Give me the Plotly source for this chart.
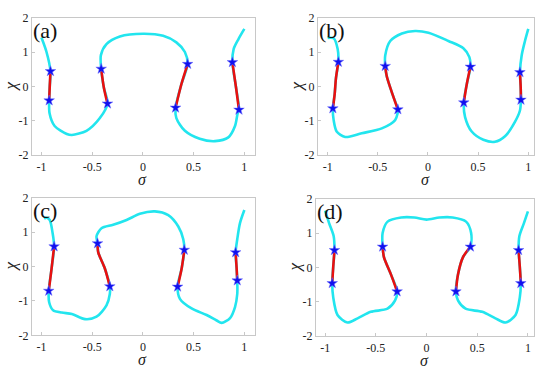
import plotly.graph_objects as go

# ---- data: path points (sigma, chi) for each panel, and indices of the star points
sigma_a = [-1.0, -0.95, -0.911, -0.918, -0.924, -0.92, -0.87, -0.75, -0.70, -0.556, -0.424, -0.349,
           -0.385, -0.411, -0.414, -0.359, -0.227, 0.003, 0.20, 0.33, 0.414, 0.441,
           0.38, 0.322, 0.33, 0.414, 0.56, 0.71, 0.842, 0.908, 0.934, 0.947,
           0.918, 0.882, 0.895, 0.941, 1.0]
chi_a = [1.42, 1.0, 0.44, 0.0, -0.41, -0.78, -1.15, -1.38, -1.41, -1.29, -0.92, -0.50,
         -0.03, 0.51, 0.91, 1.23, 1.45, 1.53, 1.47, 1.28, 1.0, 0.65,
         0.07, -0.62, -0.92, -1.29, -1.52, -1.59, -1.48, -1.15, -0.78, -0.68,
         -0.03, 0.70, 1.09, 1.37, 1.67]
stars_a = [2, 4, 11, 13, 21, 23, 31, 33]

sigma_b = [-1.0, -0.94, -0.90, -0.893, -0.917, -0.93, -0.948, -0.94, -0.91, -0.825, -0.66, -0.46,
           -0.327, -0.304, -0.30, -0.353, -0.41, -0.426, -0.426, -0.376, -0.26, -0.128, 0.005,
           0.204, 0.353, 0.413, 0.423, 0.386, 0.357, 0.37, 0.436, 0.552, 0.668, 0.768, 0.867,
           0.917, 0.927, 0.924, 0.917, 0.934, 0.967, 1.0]
chi_b = [1.41, 1.40, 1.09, 0.71, 0.24, -0.23, -0.64, -0.98, -1.31, -1.47, -1.36, -1.22,
         -0.98, -0.80, -0.67, -0.23, 0.29, 0.59, 0.90, 1.32, 1.54, 1.61, 1.56,
         1.32, 1.11, 0.85, 0.57, 0.05, -0.47, -0.89, -1.31, -1.55, -1.61, -1.45, -1.03,
         -0.70, -0.39, 0.0, 0.41, 0.90, 1.32, 1.67]
stars_b = [3, 6, 14, 17, 26, 28, 36, 38]

sigma_c = [-0.974, -0.95, -0.918, -0.89, -0.875, -0.90, -0.928, -0.924, -0.885, -0.80, -0.70,
           -0.57, -0.457, -0.359, -0.326, -0.326, -0.375, -0.44, -0.447, -0.457, -0.408,
           -0.293, -0.161, -0.03, 0.118, 0.25, 0.349, 0.398, 0.408, 0.382, 0.342, 0.365,
           0.48, 0.628, 0.727, 0.776, 0.859, 0.908, 0.93, 0.93, 0.924, 0.914, 0.93, 0.957, 1.0]
chi_c = [1.39, 1.42, 1.35, 0.97, 0.58, -0.06, -0.71, -1.04, -1.27, -1.34, -1.38,
         -1.53, -1.46, -1.13, -0.80, -0.58, -0.06, 0.41, 0.67, 0.88, 1.11,
         1.21, 1.35, 1.53, 1.60, 1.49, 1.16, 0.79, 0.48, -0.06, -0.59, -0.94,
         -1.22, -1.41, -1.57, -1.64, -1.50, -1.18, -0.80, -0.41, -0.06, 0.41, 0.79, 1.26, 1.64]
stars_c = [4, 6, 15, 18, 28, 30, 39, 41]

sigma_d = [-1.0, -0.96, -0.916, -0.908, -0.92, -0.93, -0.92, -0.878, -0.78, -0.68, -0.55,
           -0.385, -0.31, -0.29, -0.35, -0.42, -0.433, -0.433, -0.384, -0.25, -0.12, 0.0,
           0.127, 0.258, 0.39, 0.44, 0.433, 0.36, 0.31, 0.29, 0.31, 0.385, 0.55, 0.68,
           0.78, 0.878, 0.92, 0.93, 0.92, 0.908, 0.916, 0.96, 1.0]
chi_d = [1.65, 1.28, 0.91, 0.50, 0.02, -0.46, -0.87, -1.38, -1.60, -1.48, -1.29,
         -1.20, -0.96, -0.70, -0.21, 0.30, 0.60, 1.0, 1.33, 1.45, 1.45, 1.39,
         1.45, 1.45, 1.33, 1.0, 0.60, 0.30, -0.21, -0.70, -0.96, -1.20, -1.29, -1.48,
         -1.60, -1.38, -0.87, -0.46, 0.02, 0.50, 0.91, 1.28, 1.63]
stars_d = [3, 5, 13, 16, 26, 29, 37, 39]

panel_labels = ["(a)", "(b)", "(c)", "(d)"]
x_title = "σ"
y_title = "χ"
x_tickvals = [-1, -0.5, 0, 0.5, 1]
x_ticktext = ["-1", "-0.5", "0", "0.5", "1"]
y_tickvals = [-2, -1, 0, 1, 2]
y_ticktext = ["-2", "-1", "0", "1", "2"]

panels = [(sigma_a, chi_a, stars_a), (sigma_b, chi_b, stars_b),
          (sigma_c, chi_c, stars_c), (sigma_d, chi_d, stars_d)]

W, H = 550, 376
# pixel boxes: (left, right, top, bottom), x ranges
boxes = [(32, 255, 11, 154), (318, 534, 11, 154), (32, 255, 198, 341), (316, 534, 199, 342)]
xranges = [(-1.093, 1.105), (-1.096, 1.057), (-1.093, 1.105), (-1.09, 1.06)]

fig = go.Figure()
font_fam = "Liberation Serif"
grey = "#c8c8c8"
txt = "#222222"

for i, ((sx, cy, st), (l, r, t, b), xr) in enumerate(zip(panels, boxes, xranges)):
    n = i + 1
    xa = "x" if n == 1 else f"x{n}"
    ya = "y" if n == 1 else f"y{n}"
    fig.add_trace(go.Scatter(x=sx, y=cy, mode="lines",
                             line=dict(color="#22e5ee", width=2.6, shape="spline", smoothing=0.8),
                             xaxis=xa, yaxis=ya, showlegend=False, hoverinfo="skip"))
    for k in range(0, len(st), 2):
        i0, i1 = st[k], st[k + 1]
        fig.add_trace(go.Scatter(x=sx[i0:i1 + 1], y=cy[i0:i1 + 1], mode="lines",
                                 line=dict(color="#e81010", width=2.6, shape="spline", smoothing=0.8),
                                 xaxis=xa, yaxis=ya, showlegend=False, hoverinfo="skip"))
    fig.add_trace(go.Scatter(x=[sx[j] for j in st], y=[cy[j] for j in st], mode="markers",
                             marker=dict(symbol="star", size=8, color="#1010ee",
                                         line=dict(color="#6a6aff", width=0.5)),
                             xaxis=xa, yaxis=ya, showlegend=False, hoverinfo="skip"))
    axis_common = dict(showline=True, linecolor=grey, linewidth=1, mirror=True, ticks="inside",
                       ticklen=3, tickcolor=grey, showgrid=False, zeroline=False,
                       tickfont=dict(family=font_fam, size=12, color=txt))
    sfx = "" if n == 1 else str(n)
    fig.layout[f"xaxis{sfx}"] = dict(domain=[l / W, r / W], range=list(xr), anchor=ya,
                                     tickvals=x_tickvals, ticktext=x_ticktext, **axis_common)
    fig.layout[f"yaxis{sfx}"] = dict(domain=[(H - b) / H, (H - t) / H], range=[-2, 2], anchor=xa,
                                     tickvals=y_tickvals, ticktext=y_ticktext, **axis_common)
    # axis titles
    fig.add_annotation(text=f"<i>{x_title}</i>", xref="paper", yref="paper",
                       x=((l + r) / 2 - 1) / W, y=(H - (b + 25)) / H, xanchor="center", yanchor="middle",
                       showarrow=False, font=dict(family=font_fam, size=16, color=txt))
    fig.add_annotation(text=f"<i>{y_title}</i>", xref="paper", yref="paper",
                       x=(l - 22) / W, y=(H - (t + b) / 2) / H, xanchor="center", yanchor="middle",
                       textangle=-90, showarrow=False, font=dict(family=font_fam, size=17, color=txt))
    fig.add_annotation(text=panel_labels[i], xref="paper", yref="paper", x=(l - 1) / W, y=(H - t + 2) / H,
                       xanchor="left", yanchor="top", showarrow=False,
                       font=dict(family=font_fam, size=22, color="#111"))

fig.update_layout(width=W, height=H, margin=dict(l=0, r=0, t=0, b=0),
                  paper_bgcolor="white", plot_bgcolor="white")
fig.write_html("out.html", config={"displayModeBar": False},
               post_script="document.body.style.margin='0';")
